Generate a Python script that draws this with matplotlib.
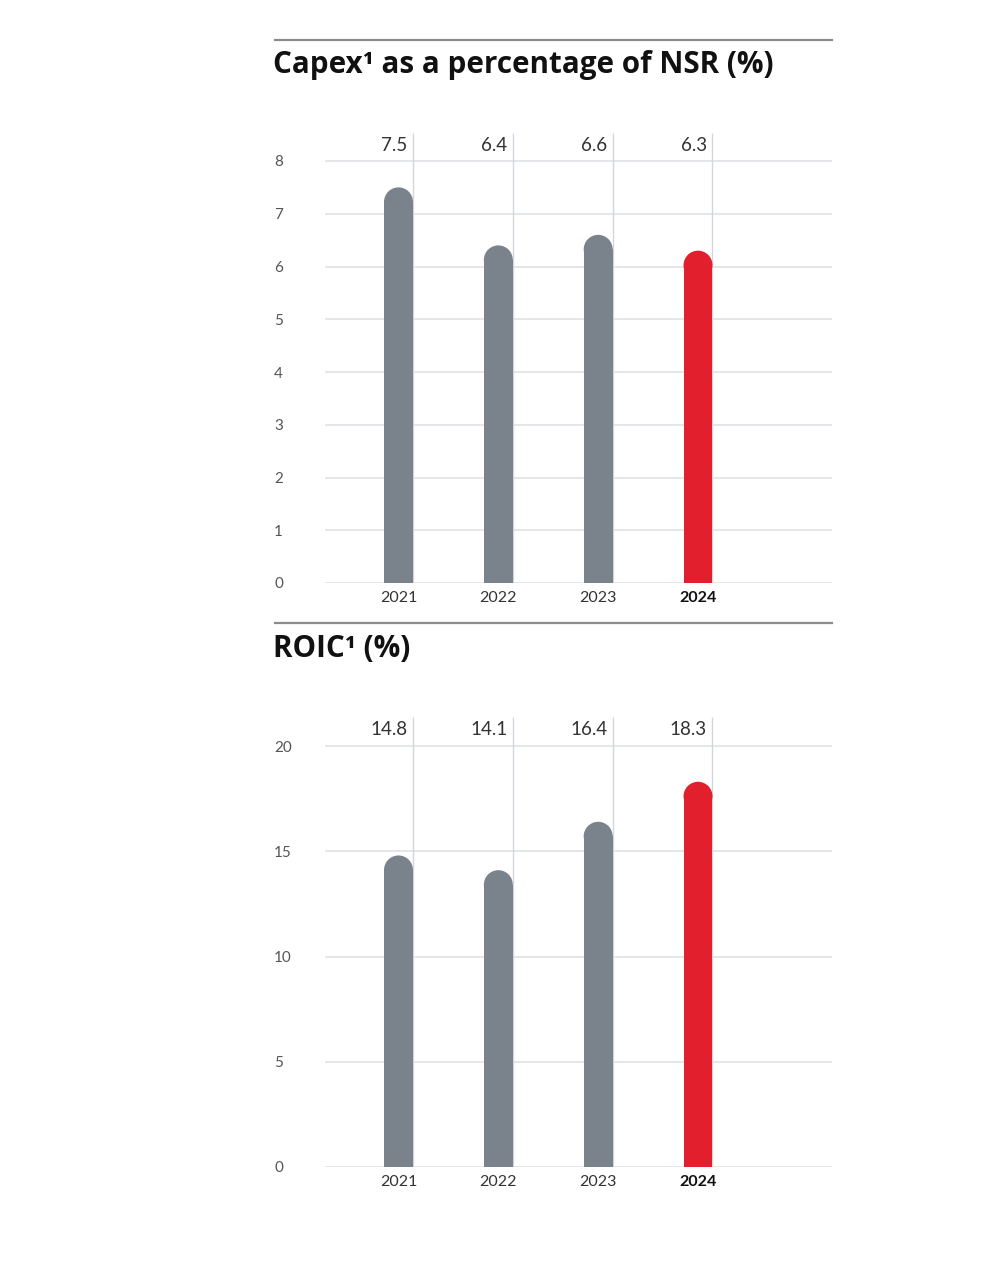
import numpy as np
import matplotlib
matplotlib.use("Agg")
from matplotlib import pyplot as plt
from matplotlib.patches import Ellipse
from matplotlib.lines import Line2D
import matplotlib.transforms as mtransforms

# data
years = ['2021', '2022', '2023', '2024']
capex_pct = [7.5, 6.4, 6.6, 6.3]
roic_pct = [14.8, 14.1, 16.4, 18.3]
capex_ticks = [0, 1, 2, 3, 4, 5, 6, 7, 8]
roic_ticks = [0, 5, 10, 15, 20]

GREY = '#7a838c'
RED = '#e21f2d'
GRID = '#dcdfe3'
VLINE = '#d3d7dc'
FONT = 'Lato'
TITLE_FONT = 'Open Sans'

W, H = 994, 1280
fig = plt.figure(figsize=(W / 100, H / 100), dpi=100)
fig.patch.set_facecolor('white')


def px_box(left, right, top, bottom):
    return [left / W, 1 - bottom / H, (right - left) / W, (bottom - top) / H]


def draw_panel(ax, values, ticks, ytop):
    x = np.arange(len(values))
    bw = 0.29
    ax.set_xlim(-0.736, 4.342)
    ax.set_ylim(0, ytop)

    # gridlines
    for t in ticks:
        ax.axhline(t, color=GRID, lw=1.1, zorder=0)
    # thin vertical guide at the right edge of each bar
    ax.vlines(x + bw / 2, 0, ytop, color=VLINE, lw=1.0, zorder=1)

    # size of the rounded cap in y data units
    px_per_y = ax.bbox.height / ytop
    px_per_x = ax.bbox.width / (4.342 + 0.736)
    ry = (bw * px_per_x / 2) / px_per_y

    colors = [GREY] * (len(values) - 1) + [RED]
    vals = np.array(values)
    ax.bar(x, vals - ry, width=bw, color=colors, zorder=2, linewidth=0)
    for xi, v, c in zip(x, vals, colors):
        ax.add_patch(Ellipse((xi, v - ry), bw, 2 * ry, color=c, lw=0, zorder=2))

    # value labels above the chart, right aligned to the guide line
    trans = mtransforms.blended_transform_factory(ax.transData, ax.transAxes)
    for xi, v in zip(x, values):
        ax.annotate(f'{v:.1f}', xy=(xi + bw / 2, 0.972), xycoords=trans,
                    xytext=(-4, 0), textcoords='offset points',
                    ha='right', va='center', fontsize=13.5, color='#333333',
                    family=FONT)

    ax.set_xticks(x)
    ax.set_xticklabels(years)
    ax.set_yticks(ticks)
    ax.set_yticklabels([str(t) for t in ticks])
    ax.tick_params(axis='x', length=0, pad=5.5)
    ax.tick_params(axis='y', length=0, pad=36.7)
    for lab in ax.get_xticklabels():
        lab.set_family(FONT)
        lab.set_fontsize(11.5)
        lab.set_color('#333333')
    ax.get_xticklabels()[-1].set_fontweight('bold')
    ax.get_xticklabels()[-1].set_color('#111111')
    for lab in ax.get_yticklabels():
        lab.set_family(FONT)
        lab.set_fontsize(11)
        lab.set_color('#555555')
        lab.set_horizontalalignment('left')
    for s in ax.spines.values():
        s.set_visible(False)


ax1 = fig.add_axes(px_box(325, 832, 133, 583))
draw_panel(ax1, capex_pct, capex_ticks, 450 / 52.75)

ax2 = fig.add_axes(px_box(325, 832, 717, 1167))
draw_panel(ax2, roic_pct, roic_ticks, 450 / 21.05)

# separators and titles
for yy in [40, 623]:
    fig.add_artist(Line2D([275 / W, 832 / W], [1 - yy / H, 1 - yy / H],
                          color='#8c8c8c', lw=1.6))

fig.text(273 / W, 1 - 73 / H, 'Capex\u00b9 as a percentage of NSR (%)',
         family=TITLE_FONT, fontweight='bold', fontsize=21.3, color='#111111', va='baseline')
fig.text(273 / W, 1 - 657 / H, 'ROIC\u00b9 (%)',
         family=TITLE_FONT, fontweight='bold', fontsize=21.3, color='#111111', va='baseline')

fig.savefig('out.png', dpi=100, facecolor='white')
